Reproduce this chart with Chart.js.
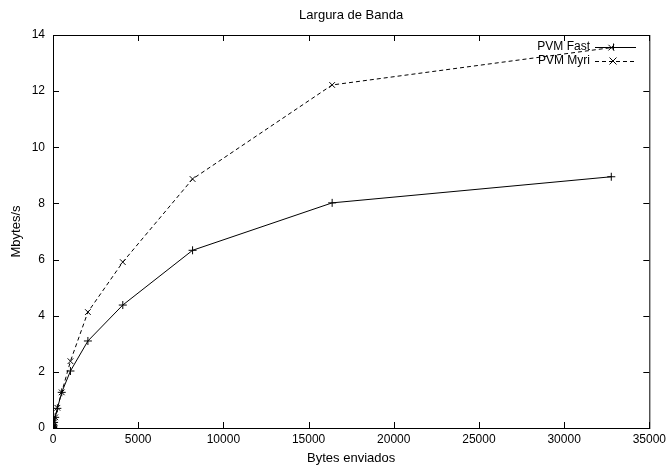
<!DOCTYPE html>
<html>
<head>
<meta charset="utf-8">
<script src="https://cdn.jsdelivr.net/npm/chart.js@4"></script>
<style>
  html, body { margin: 0; padding: 0; background: #fff; }
  #wrap { width: 670px; height: 465px; }
</style>
</head>
<body>
<div id="wrap"><canvas id="bwChart" width="670" height="465"></canvas></div>
<script>
const TITLE = "Largura de Banda";
const X_TITLE = "Bytes enviados";
const Y_TITLE = "Mbytes/s";

// message sizes in bytes
const bytesSent = [1, 2, 4, 8, 16, 32, 64, 128, 256, 512, 1024, 2048, 4096, 8192, 16384, 32768];
// bandwidth (Mbytes/s)
const pvmFast = [0.0, 0.01, 0.01, 0.02, 0.05, 0.1, 0.2, 0.38, 0.7, 1.27, 2.03, 3.1, 4.38, 6.33, 8.02, 8.95];
const pvmMyri = [0.0, 0.01, 0.01, 0.02, 0.05, 0.1, 0.2, 0.38, 0.72, 1.27, 2.38, 4.13, 5.91, 8.87, 12.22, 13.55];

const FONT = "'Liberation Sans', Arial, sans-serif";

function toPoints(xs, ys) {
  return xs.map((x, i) => ({ x: x, y: ys[i] }));
}

// gnuplot look: border box, inward ticks on all sides, titles, legend at top right
const gnuplotLook = {
  id: "gnuplotLook",
  afterDraw(chart) {
    const ctx = chart.ctx;
    const area = chart.chartArea;
    const xs = chart.scales.x;
    const ys = chart.scales.y;
    ctx.save();
    ctx.strokeStyle = "#000";
    ctx.lineWidth = 1;
    ctx.setLineDash([]);
    ctx.strokeRect(area.left + 0.5, area.top + 0.5, area.right - area.left, area.bottom - area.top);

    const tl = 6;
    ctx.beginPath();
    xs.ticks.forEach(t => {
      const px = Math.round(xs.getPixelForValue(t.value)) + 0.5;
      ctx.moveTo(px, area.bottom);
      ctx.lineTo(px, area.bottom - tl);
      ctx.moveTo(px, area.top);
      ctx.lineTo(px, area.top + tl);
    });
    ys.ticks.forEach(t => {
      const py = Math.round(ys.getPixelForValue(t.value)) + 0.5;
      ctx.moveTo(area.left, py);
      ctx.lineTo(area.left + tl, py);
      ctx.moveTo(area.right, py);
      ctx.lineTo(area.right - tl, py);
    });
    ctx.stroke();

    // titles
    ctx.fillStyle = "#000";
    ctx.font = "13px " + FONT;
    ctx.textAlign = "center";
    ctx.textBaseline = "middle";
    ctx.fillText(TITLE, (area.left + area.right) / 2, 15);
    ctx.fillText(X_TITLE, (area.left + area.right) / 2, 458);
    ctx.save();
    ctx.translate(16, (area.top + area.bottom) / 2);
    ctx.rotate(-Math.PI / 2);
    ctx.fillText(Y_TITLE, 0, 0);
    ctx.restore();

    // legend
    ctx.font = "12px " + FONT;
    const entries = chart.data.datasets;
    entries.forEach((ds, i) => {
      const y = 47 + i * 14;
      ctx.textAlign = "right";
      ctx.fillText(ds.label, 590, y);
      ctx.beginPath();
      ctx.setLineDash(ds.borderDash || []);
      ctx.moveTo(595, y + 0.5);
      ctx.lineTo(636, y + 0.5);
      ctx.stroke();
      ctx.setLineDash([]);
      const r = 3.5;
      ctx.beginPath();
      if (ds.pointStyle === "cross") {
        ctx.moveTo(613 - r, y + 0.5); ctx.lineTo(613 + r, y + 0.5);
        ctx.moveTo(613.5, y - r); ctx.lineTo(613.5, y + r);
      } else {
        ctx.moveTo(613 - r, y - r); ctx.lineTo(613 + r, y + r);
        ctx.moveTo(613 - r, y + r); ctx.lineTo(613 + r, y - r);
      }
      ctx.stroke();
    });
    ctx.restore();
  }
};

const data = {
  datasets: [
    {
      label: "PVM Fast",
      data: toPoints(bytesSent, pvmFast),
      borderColor: "#000",
      backgroundColor: "#000",
      borderWidth: 1,
      pointStyle: "cross",
      pointRadius: 4,
      pointBorderWidth: 1,
      pointBorderColor: "#000",
      tension: 0
    },
    {
      label: "PVM Myri",
      data: toPoints(bytesSent, pvmMyri),
      borderColor: "#000",
      backgroundColor: "#000",
      borderWidth: 1,
      borderDash: [4, 3],
      pointStyle: "crossRot",
      pointRadius: 4,
      pointBorderWidth: 1,
      pointBorderColor: "#000",
      tension: 0
    }
  ]
};

const config = {
  type: "line",
  data: data,
  options: {
    responsive: false,
    animation: false,
    devicePixelRatio: 1,
    layout: { padding: { top: 35, right: 18, left: 0, bottom: 0 } },
    plugins: {
      legend: { display: false },
      title: { display: false },
      tooltip: { enabled: false }
    },
    scales: {
      x: {
        type: "linear",
        min: 0,
        max: 35000,
        border: { display: false },
        grid: { display: false, drawTicks: false },
        ticks: {
          stepSize: 5000,
          padding: 4,
          color: "#000",
          maxRotation: 0,
          font: { family: FONT, size: 12 },
          callback: (v) => String(v)
        },
        afterFit(scale) { scale.height = 37; }
      },
      y: {
        min: 0,
        max: 14,
        border: { display: false },
        grid: { display: false, drawTicks: false },
        ticks: {
          stepSize: 2,
          padding: 8,
          color: "#000",
          font: { family: FONT, size: 12 },
          callback: (v) => String(v)
        },
        afterFit(scale) { scale.width = 53; }
      }
    }
  },
  plugins: [gnuplotLook]
};

const myChart = new Chart(document.getElementById("bwChart"), config);
</script>
</body>
</html>
